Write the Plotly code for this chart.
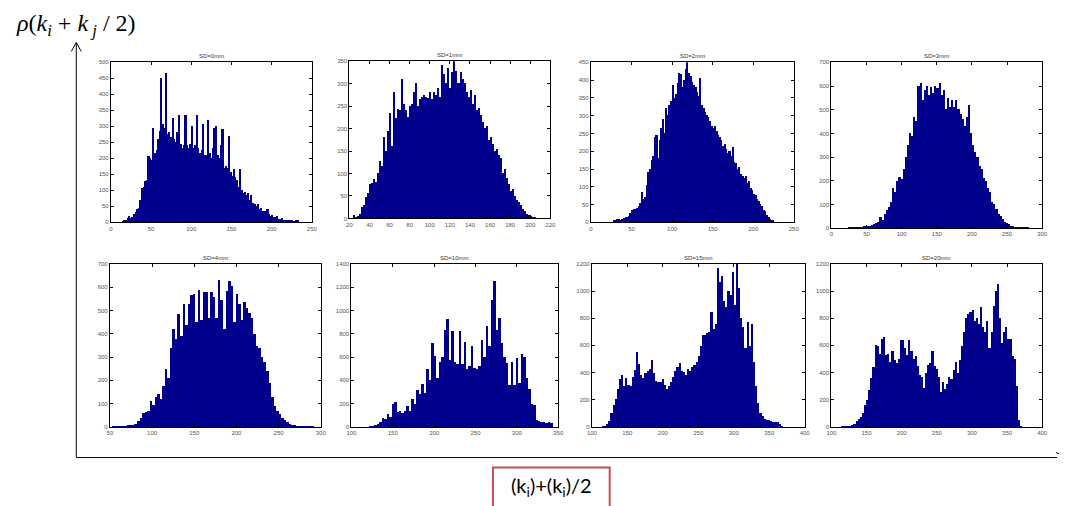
import plotly.graph_objects as go
import numpy as np

W, H = 1067, 506
OFF = 0  # body margin removed via post_script

# ---------------- data (histogram counts) ----------------
titles = ["SD=0mm", "SD=1mm", "SD=2mm", "SD=3mm", "SD=4mm", "SD=10mm", "SD=15mm", "SD=20mm"]

sd0_start, sd0_width = 14, 2
sd0_counts = [3, 5, 8, 12, 18, 14, 15, 25, 30, 40,
              45, 70, 105, 110, 128, 130, 205, 200, 195, 295,
              215, 225, 260, 285, 450, 305, 295, 465, 275, 280,
              265, 325, 260, 250, 280, 335, 245, 230, 240, 335,
              240, 230, 245, 300, 230, 240, 335, 230, 215, 225,
              305, 210, 210, 320, 215, 200, 230, 295, 300, 210,
              200, 240, 290, 170, 175, 170, 270, 155, 145, 165,
              140, 130, 110, 165, 100, 90, 95, 85, 90, 70,
              85, 60, 55, 50, 55, 40, 45, 35, 35, 35,
              40, 25, 20, 22, 15, 15, 18, 10, 10, 12,
              8, 8, 6, 5, 6, 5, 4, 3, 5, 6]

sd1_start, sd1_width = 24, 2
sd1_counts = [8, 3, 5, 10, 25, 30, 48, 55, 75, 78,
              88, 80, 100, 128, 115, 180, 150, 195, 235, 160,
              280, 222, 242, 240, 310, 255, 240, 225, 250, 255,
              280, 300, 250, 265, 270, 275, 270, 268, 280, 265,
              280, 275, 290, 270, 340, 320, 300, 335, 290, 325,
              350, 328, 300, 325, 310, 300, 280, 270, 285, 255,
              275, 240, 245, 230, 215, 200, 205, 175, 180, 165,
              150, 155, 140, 135, 100, 110, 90, 75, 60, 65,
              50, 40, 35, 30, 20, 15, 10, 8, 5, 3,
              3]

sd2_start, sd2_width = 28, 2
sd2_counts = [5, 5, 8, 8, 6, 10, 12, 15, 15, 18,
              25, 35, 38, 38, 40, 45, 55, 85, 65, 70,
              105, 140, 150, 175, 185, 240, 245, 180, 230, 265,
              290, 250, 320, 300, 330, 340, 385, 350, 360, 390,
              420, 415, 380, 400, 430, 450, 420, 410, 395, 385,
              380, 365, 355, 405, 330, 320, 310, 300, 295, 285,
              270, 265, 270, 255, 245, 240, 230, 215, 220, 205,
              195, 200, 185, 210, 170, 165, 150, 155, 135, 130,
              125, 130, 110, 115, 95, 90, 80, 75, 65, 60,
              50, 45, 35, 30, 20, 15, 10, 6, 5]

sd3_start, sd3_width = 24, 3
sd3_counts = [2, 3, 3, 5, 4, 5, 5, 8, 10, 8,
              10, 12, 15, 20, 25, 45, 35, 60, 75, 90,
              110, 170, 150, 200, 215, 205, 250, 300, 350, 400,
              390, 470, 450, 600, 610, 540, 580, 600, 560, 595,
              570, 600, 590, 610, 560, 580, 500, 550, 510, 540,
              510, 540, 500, 480, 460, 430, 470, 520, 400, 350,
              320, 300, 260, 250, 210, 200, 170, 150, 110, 100,
              80, 60, 50, 40, 25, 20, 15, 10, 8, 6,
              5, 4, 3, 3, 2, 2]

sd4_start, sd4_width = 52, 3
sd4_counts = [4, 5, 5, 5, 4, 6, 7, 8, 10, 15,
              25, 40, 60, 65, 70, 110, 95, 130, 140, 120,
              175, 250, 210, 340, 420, 380, 485, 390, 530, 440,
              530, 565, 570, 450, 590, 460, 580, 580, 470, 580,
              560, 470, 630, 545, 420, 585, 625, 605, 450, 570,
              530, 460, 535, 510, 490, 470, 400, 350, 340, 300,
              280, 240, 190, 130, 90, 70, 55, 40, 30, 20,
              15, 10, 8, 5, 4, 3, 3, 3, 3, 3]

sd10_start, sd10_width = 122, 3
sd10_counts = [5, 10, 15, 30, 45, 75, 65, 110, 90, 200,
               215, 125, 135, 120, 140, 180, 140, 240, 200, 320,
               280, 370, 290, 500, 400, 720, 610, 420, 560, 600,
               830, 930, 580, 825, 560, 540, 825, 540, 730, 500,
               520, 700, 510, 500, 520, 750, 600, 870, 700, 1090,
               1250, 830, 940, 720, 600, 550, 360, 560, 360, 590,
               380, 630, 600, 420, 330, 200, 190, 60, 55, 40,
               45, 35, 40, 35]

sd15_start, sd15_width = 114, 3
sd15_counts = [5, 10, 20, 45, 100, 160, 210, 280, 350, 380,
               300, 360, 310, 300, 370, 420, 550, 465, 380, 360,
               400, 410, 430, 490, 400, 340, 335, 330, 350, 310,
               280, 300, 330, 370, 410, 440, 470, 410, 405, 380,
               430, 410, 440, 460, 480, 520, 600, 680, 680, 690,
               700, 850, 720, 760, 1170, 1070, 1110, 930, 880, 1000,
               970, 1140, 900, 1200, 1020, 800, 740, 580, 770, 600,
               760, 480, 300, 180, 100, 80, 60, 55, 50, 45,
               40, 40, 35, 20, 5]

sd20_start, sd20_width = 114, 3
sd20_counts = [3, 5, 5, 8, 10, 12, 20, 45, 60, 75,
               100, 160, 200, 270, 360, 440, 605, 600, 540, 650,
               665, 530, 540, 480, 560, 490, 470, 500, 640, 640,
               580, 530, 640, 560, 500, 520, 450, 380, 370, 290,
               400, 460, 470, 560, 450, 430, 370, 260, 330, 280,
               320, 370, 350, 420, 480, 400, 490, 600, 700, 800,
               830, 850, 860, 780, 800, 760, 880, 740, 700, 780,
               580, 700, 890, 1000, 1050, 800, 620, 700, 740, 650,
               650, 520, 500, 300, 50, 10]

x_ticks = [list(range(0, 251, 50)), list(range(20, 221, 20)), list(range(0, 251, 50)),
           list(range(0, 301, 50)), list(range(50, 301, 50)), list(range(100, 351, 50)),
           list(range(100, 401, 50)), list(range(100, 401, 50))]
y_ticks = [list(range(0, 501, 50)), list(range(0, 351, 50)), list(range(0, 451, 50)),
           list(range(0, 701, 100)), list(range(0, 701, 100)), list(range(0, 1401, 200)),
           list(range(0, 1201, 200)), list(range(0, 1201, 200))]

series = [(sd0_start, sd0_width, sd0_counts), (sd1_start, sd1_width, sd1_counts),
          (sd2_start, sd2_width, sd2_counts), (sd3_start, sd3_width, sd3_counts),
          (sd4_start, sd4_width, sd4_counts), (sd10_start, sd10_width, sd10_counts),
          (sd15_start, sd15_width, sd15_counts), (sd20_start, sd20_width, sd20_counts)]

# ---------------- layout (screen pixel boxes of each panel: left, right, top, bottom) ----------------
boxes = [(107, 310, 60, 222), (348, 551, 59, 218), (592, 797, 60, 222), (835, 1048, 60, 228),
         (106, 319, 264, 429), (350, 559, 264, 429), (593, 808, 264, 429), (835, 1048, 264, 429)]


def PX(x):
    return (x - OFF) / W


def PY(y):
    return 1 - (y - OFF) / H


BAR = "rgb(0,0,140)"
fig = go.Figure()
annotations = []
layout_axes = {}

for i, ((start, width, counts), box) in enumerate(zip(series, boxes)):
    n = i + 1
    centers = start + width / 2 + width * np.arange(len(counts))
    xa = "x" if n == 1 else f"x{n}"
    ya = "y" if n == 1 else f"y{n}"
    fig.add_trace(go.Bar(x=centers, y=counts, width=width, xaxis=xa, yaxis=ya,
                         marker=dict(color=BAR, line=dict(width=0)), showlegend=False,
                         hoverinfo="x+y"))
    l, r, t, b = box
    common = dict(showline=True, linecolor="black", linewidth=1, mirror="ticks",
                  ticks="inside", ticklen=3, tickcolor="black", tickwidth=1,
                  showgrid=False, zeroline=False,
                  tickfont=dict(size=6, color="#555555", family="Liberation Sans"))
    xt, yt = x_ticks[i], y_ticks[i]
    layout_axes["xaxis" if n == 1 else f"xaxis{n}"] = dict(
        domain=[PX(l), PX(r)], anchor=ya, range=[xt[0], xt[-1]], tickvals=xt, **common)
    layout_axes["yaxis" if n == 1 else f"yaxis{n}"] = dict(
        domain=[PY(b), PY(t)], anchor=xa, range=[yt[0], yt[-1]], tickvals=yt, **common)
    annotations.append(dict(text=titles[i], x=PX((l + r) / 2), y=PY(t), xref="paper", yref="paper",
                            xanchor="center", yanchor="bottom", yshift=1, showarrow=False,
                            font=dict(size=6, color="#333333", family="Liberation Sans")))

# big y-axis label
annotations.append(dict(
    text="<i>ρ</i>(<i>k</i><sub><i>i</i></sub> + <i>k</i><sub> <i>j</i></sub> / 2)",
    x=PX(9), y=PY(22), xref="paper", yref="paper", xanchor="left", yanchor="middle",
    showarrow=False, font=dict(size=24, color="black", family="Liberation Serif")))
# boxed x label
annotations.append(dict(
    text="(k<sub>i</sub>)+(k<sub>i</sub>)/2",
    x=PX(552), y=PY(489), xref="paper", yref="paper", xanchor="center", yanchor="middle",
    showarrow=False, font=dict(size=20, color="black", family="Lato")))

shapes = []


def line(x0, y0, x1, y1, color="black", w=1):
    shapes.append(dict(type="line", xref="paper", yref="paper", x0=PX(x0), y0=PY(y0),
                       x1=PX(x1), y1=PY(y1), line=dict(color=color, width=w)))


line(72, 460, 72, 40)
line(67, 49, 72, 40)
line(77, 49, 72, 40)
line(72, 460, 1063, 460)
line(1062, 455, 1065, 456)
shapes.append(dict(type="rect", xref="paper", yref="paper", x0=PX(493), y0=PY(470),
                   x1=PX(611), y1=PY(512),
                   line=dict(color="#C0504D", width=2), fillcolor="rgba(0,0,0,0)"))

fig.update_layout(width=W, height=H, margin=dict(l=0, r=0, t=0, b=0),
                  paper_bgcolor="white", plot_bgcolor="white", bargap=0,
                  annotations=annotations, shapes=shapes, **layout_axes)

fig.write_html("out.html", config={"displayModeBar": False},
               post_script="document.body.style.margin='0px';document.body.style.overflow='hidden';")
